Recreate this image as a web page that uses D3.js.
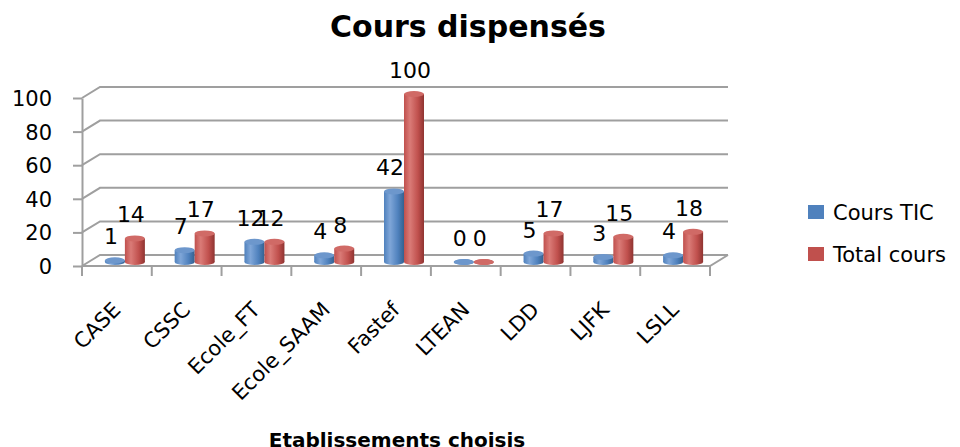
<!DOCTYPE html>
<html>
<head>
<meta charset="utf-8">
<script src="https://cdn.jsdelivr.net/npm/d3@7"></script>
<style>
  html, body { margin: 0; padding: 0; background: #fff; }
  svg { display: block; }
</style>
</head>
<body>
<div id="chart"></div>
<script>
// ── Data ─────────────────────────────────────────────────────
const categories = ['CASE', 'CSSC', 'Ecole_FT', 'Ecole_SAAM', 'Fastef', 'LTEAN', 'LDD', 'LJFK', 'LSLL'];
const seriesNames = ['Cours TIC', 'Total cours'];
const coursTIC   = [1, 7, 12, 4, 42, 0, 5, 3, 4];
const totalCours = [14, 17, 12, 8, 100, 0, 17, 15, 18];
const yTicks = [0, 20, 40, 60, 80, 100];

const COLORS = {
  'Cours TIC':   { base: '#4f81bd', light: '#7fa6d8', dark: '#34618f', top: '#6d97cc' },
  'Total cours': { base: '#c0504d', light: '#da7b77', dark: '#8f3431', top: '#d06a66' },
};

const FONT = '"DejaVu Sans", sans-serif';
const width = 960, height = 447;

// front plane of the 3D box and depth offset of the back wall
const front = { left: 82, right: 710, bottom: 266, top: 98 };
const depth = { dx: 18, dy: -11 };
const barShift = { dx: 8, dy: -4 };

const svg = d3.select('#chart').append('svg')
  .attr('width', width)
  .attr('height', height);

const defs = svg.append('defs');
Object.entries(COLORS).forEach(([name, c], i) => {
  const grad = defs.append('linearGradient')
    .attr('id', `cyl-${i}`)
    .attr('x1', '0%').attr('x2', '100%').attr('y1', '0%').attr('y2', '0%');
  grad.append('stop').attr('offset', '0%').attr('stop-color', c.base);
  grad.append('stop').attr('offset', '30%').attr('stop-color', c.light);
  grad.append('stop').attr('offset', '70%').attr('stop-color', c.base);
  grad.append('stop').attr('offset', '100%').attr('stop-color', c.dark);
});

// ── Scales ────────────────────────────────────────────────
const x = d3.scaleBand()
  .domain(categories)
  .range([front.left, front.right])
  .padding(0);

const xSeries = d3.scaleBand()
  .domain(seriesNames)
  .range([-20, 20]);

const y = d3.scaleLinear()
  .domain([0, 100])
  .range([front.bottom, front.top]);

const gridColor = '#9f9f9f';

// ── Walls / grid ──────────────────────────────────────────
const grid = svg.append('g').attr('stroke', gridColor).attr('stroke-width', 2).attr('fill', 'none');

yTicks.forEach(t => {
  const yy = y(t);
  grid.append('path')
    .attr('d', `M${front.left},${yy}L${front.left + depth.dx},${yy + depth.dy}L${front.right + depth.dx},${yy + depth.dy}`);
});

// floor front edge and right side
grid.append('path')
  .attr('d', `M${front.left},${front.bottom}L${front.right},${front.bottom}L${front.right + depth.dx},${front.bottom + depth.dy}`);

// category tick marks at band boundaries
const boundaries = categories.map(c => x(c)).concat([front.right]);
boundaries.forEach(bx => {
  grid.append('line')
    .attr('x1', bx).attr('x2', bx)
    .attr('y1', front.bottom).attr('y2', front.bottom + 10);
});

// ── Y axis ────────────────────────────────────────────────
const yAxis = svg.append('g')
  .attr('transform', `translate(${front.left},0)`)
  .call(d3.axisLeft(y).tickValues(yTicks).tickSize(9).tickSizeOuter(0).tickPadding(21));

yAxis.select('.domain').attr('stroke', gridColor).attr('stroke-width', 2);
yAxis.selectAll('.tick line').attr('stroke', gridColor).attr('stroke-width', 2);
yAxis.selectAll('.tick text')
  .attr('font-family', FONT)
  .attr('font-size', 21)
  .attr('fill', '#000')
  .attr('dy', '0.36em');

// ── Cylinders ─────────────────────────────────────────────
const data = categories.map((c, i) => ({
  category: c,
  values: [
    { name: seriesNames[0], value: coursTIC[i] },
    { name: seriesNames[1], value: totalCours[i] },
  ],
}));

const ry = 3;
const barsG = svg.append('g');
const labelsG = svg.append('g');

data.forEach(d => {
  d.values.forEach((v, si) => {
    const c = COLORS[v.name];
    const bw = xSeries.bandwidth();
    const bx = x(d.category) + x.bandwidth() / 2 + barShift.dx + xSeries(v.name);
    const yBase = y(0) + barShift.dy;
    const yTop = y(v.value) + barShift.dy;

    const g = barsG.append('g');
    g.append('ellipse')
      .attr('cx', bx + bw / 2).attr('cy', yBase)
      .attr('rx', bw / 2).attr('ry', ry)
      .attr('fill', `url(#cyl-${si})`);
    g.append('rect')
      .attr('x', bx).attr('y', yTop)
      .attr('width', bw).attr('height', yBase - yTop)
      .attr('fill', `url(#cyl-${si})`);
    g.append('ellipse')
      .attr('cx', bx + bw / 2).attr('cy', yTop)
      .attr('rx', bw / 2).attr('ry', ry)
      .attr('fill', c.top);

    // data label
    labelsG.append('text')
      .attr('x', bx + bw / 2 - 4)
      .attr('y', yTop - 16)
      .attr('text-anchor', 'middle')
      .attr('font-family', FONT)
      .attr('font-size', 22)
      .attr('fill', '#000')
      .text(v.value);
  });
});

// ── Category labels ───────────────────────────────────────
categories.forEach(c => {
  const cx = x(c) + x.bandwidth() / 2 + 5;
  svg.append('text')
    .attr('transform', `translate(${cx},311) rotate(-45)`)
    .attr('text-anchor', 'end')
    .attr('font-family', FONT)
    .attr('font-size', 21)
    .attr('fill', '#000')
    .text(c);
});

// ── Titles ────────────────────────────────────────────────
svg.append('text')
  .attr('x', 468).attr('y', 37)
  .attr('text-anchor', 'middle')
  .attr('font-family', FONT)
  .attr('font-size', 30)
  .attr('font-weight', 'bold')
  .attr('fill', '#000')
  .text('Cours dispensés');

svg.append('text')
  .attr('x', 397).attr('y', 447)
  .attr('text-anchor', 'middle')
  .attr('font-family', FONT)
  .attr('font-size', 20)
  .attr('font-weight', 'bold')
  .attr('fill', '#000')
  .text('Etablissements choisis');

// ── Legend ────────────────────────────────────────────────
const legend = svg.append('g').attr('transform', 'translate(808,205)');
seriesNames.forEach((name, i) => {
  const ly = i * 42;
  legend.append('rect')
    .attr('x', 0).attr('y', ly)
    .attr('width', 16).attr('height', 14)
    .attr('fill', COLORS[name].base);
  legend.append('text')
    .attr('x', 25).attr('y', ly + 15)
    .attr('font-family', FONT)
    .attr('font-size', 21)
    .attr('fill', '#000')
    .text(name);
});
</script>
</body>
</html>
